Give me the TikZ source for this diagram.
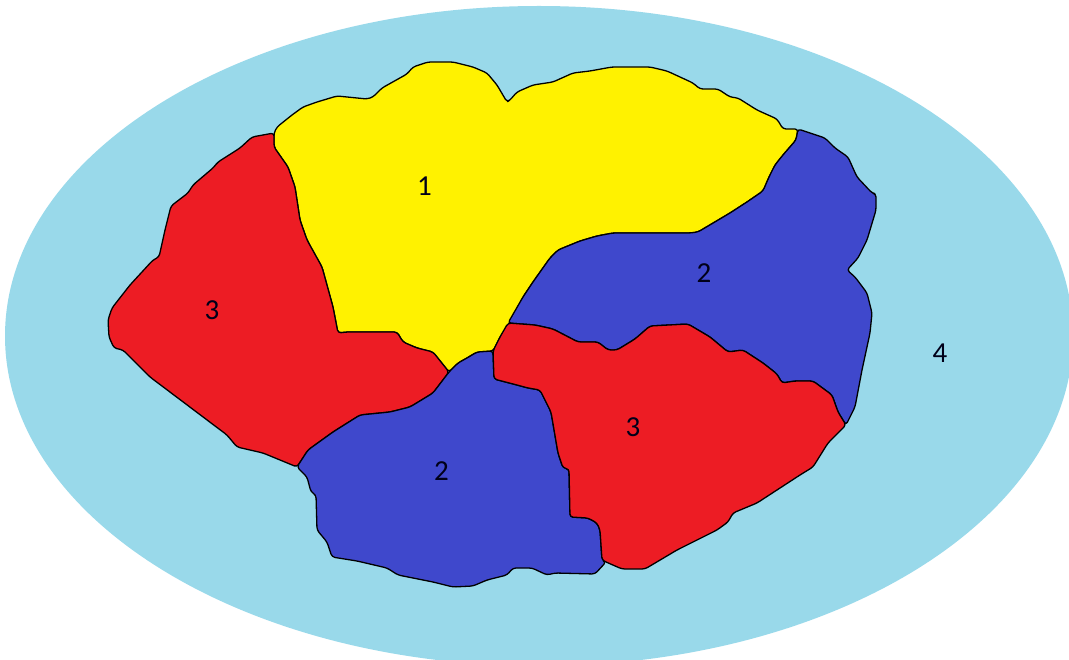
\documentclass[tikz,border=0pt]{standalone}
\usepackage{fontspec}
\setmainfont{Carlito}
\definecolor{sea}{HTML}{99D9EA}
\definecolor{yel}{HTML}{FFF200}
\definecolor{redr}{HTML}{ED1C24}
\definecolor{blu}{HTML}{3F48CC}
\tikzset{region/.style={draw=black,line width=1.3pt,line join=round,rounded corners=3pt},
 lab/.style={font=\fontsize{29}{29}\selectfont,text=black!90!blue,inner sep=0pt}}
\begin{document}
\begin{tikzpicture}[x=1pt,y=-1pt]
\useasboundingbox (0,0) rectangle (1069,660);
\begin{scope}
\clip (0,0) rectangle (1069,660);
\fill[sea] (539,336) ellipse [x radius=534,y radius=330];
\end{scope}
% yellow region 1
\filldraw[region,fill=yel] (274,133) -- (277,127) -- (292,115) -- (303,107) -- (317,102) -- (337,96) -- (367,99) -- (373,97) -- (382,88) -- (407,74) -- (413,67) -- (428,62) -- (453,62) -- (473,67) -- (487,73) -- (497,85) -- (507,102) -- (510,100) -- (517,92) -- (533,85) -- (553,82) -- (573,73) -- (590,71) -- (612,67) -- (650,67) -- (667,71) -- (693,83) -- (700,89) -- (718,89) -- (730,97) -- (738,98) -- (757,110) -- (777,119) -- (783,129) -- (798,129) -- (796,140) -- (783,155) -- (775,165) -- (769,177) -- (763,191) -- (747,202) -- (730,213) -- (698,232) -- (690,233) -- (613,233) -- (597,236) -- (580,241) -- (558,250) -- (550,258) -- (533,282) -- (523,297) -- (510,322) -- (500,337) -- (493,351) -- (477,352) -- (467,358) -- (458,363) -- (449,372) -- (433,352) -- (417,348) -- (403,342) -- (397,332) -- (347,332) -- (338,333) -- (333,307) -- (322,267) -- (307,240) -- (300,220) -- (295,187) -- (288,167) -- (274,147) -- cycle;
% red region 3, left
\filldraw[region,fill=redr] (274,133) -- (252,137) -- (240,148) -- (218,162) -- (213,168) -- (193,185) -- (188,193) -- (171,206) -- (165,230) -- (159,257) -- (153,260) -- (130,285) -- (112,308) -- (108,320) -- (109,337) -- (114,348) -- (123,350) -- (150,377) -- (227,435) -- (237,447) -- (263,453) -- (297,467) -- (308,450) -- (333,432) -- (360,415) -- (390,412) -- (410,407) -- (433,393) -- (449,372) -- (433,352) -- (417,348) -- (403,342) -- (397,332) -- (347,332) -- (338,333) -- (333,307) -- (322,267) -- (307,240) -- (300,220) -- (295,187) -- (288,167) -- (274,147) -- cycle;
% blue region 2, bottom
\filldraw[region,fill=blu] (297,467) -- (307,477) -- (311,492) -- (316,495) -- (317,530) -- (327,542) -- (332,557) -- (357,561) -- (387,568) -- (398,575) -- (433,582) -- (453,587) -- (473,586) -- (487,580) -- (507,575) -- (513,568) -- (532,568) -- (547,575) -- (555,573) -- (595,574) -- (606,562) -- (602,560) -- (600,530) -- (597,523) -- (588,518) -- (570,517) -- (569,469) -- (563,468) -- (558,453) -- (551,412) -- (540,390) -- (528,388) -- (517,385) -- (494,379) -- (493,351) -- (477,352) -- (467,358) -- (458,363) -- (449,372) -- (433,393) -- (410,407) -- (390,412) -- (360,415) -- (333,432) -- (308,450) -- cycle;
% blue region 2, right
\filldraw[region,fill=blu] (798,129) -- (825,138) -- (835,148) -- (848,157) -- (857,177) -- (872,193) -- (876,194) -- (876,210) -- (867,240) -- (858,258) -- (847,270) -- (855,277) -- (867,293) -- (872,313) -- (870,333) -- (862,370) -- (855,407) -- (846,425) -- (838,412) -- (832,395) -- (813,381) -- (795,381) -- (782,383) -- (777,374) -- (763,363) -- (743,350) -- (728,352) -- (710,337) -- (688,324) -- (650,326) -- (635,339) -- (617,350) -- (608,350) -- (598,342) -- (578,342) -- (553,329) -- (535,325) -- (508,323) -- (523,297) -- (533,282) -- (550,258) -- (558,250) -- (580,241) -- (597,236) -- (613,233) -- (690,233) -- (698,232) -- (730,213) -- (747,202) -- (763,191) -- (769,177) -- (775,165) -- (783,155) -- (796,140) -- cycle;
% red region 3, right
\filldraw[region,fill=redr] (493,351) -- (500,337) -- (508,323) -- (535,325) -- (553,329) -- (578,342) -- (598,342) -- (608,350) -- (617,350) -- (635,339) -- (650,326) -- (688,324) -- (710,337) -- (728,352) -- (743,350) -- (763,363) -- (777,374) -- (782,383) -- (795,381) -- (813,381) -- (832,395) -- (838,412) -- (846,425) -- (828,443) -- (813,467) -- (800,475) -- (757,503) -- (733,513) -- (728,522) -- (717,530) -- (677,550) -- (645,569) -- (622,569) -- (606,562) -- (602,560) -- (600,530) -- (597,523) -- (588,518) -- (570,517) -- (569,469) -- (563,468) -- (558,453) -- (551,412) -- (540,390) -- (528,388) -- (517,385) -- (494,379) -- cycle;
\node[lab] (n1) at (424.5,186) {1};
\node[lab] (n2a) at (704,273) {2};
\node[lab] (n3a) at (212,310) {3};
\node[lab] (n3b) at (633,427) {3};
\node[lab] (n2b) at (441.5,471) {2};
\node[lab] (n4) at (940,353) {4};
\end{tikzpicture}
\end{document}
